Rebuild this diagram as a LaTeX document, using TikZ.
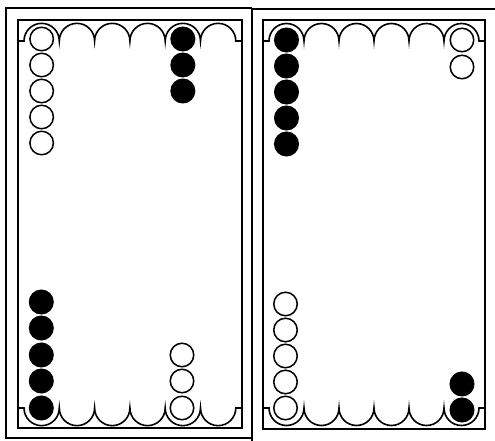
\documentclass[tikz,border=0pt]{standalone}
\begin{document}
\begin{tikzpicture}[x=1pt,y=1pt,
  frame/.style={line width=2.2pt},
  innerframe/.style={line width=2.6pt},
  pocket/.style={line width=1.6pt},
  wchk/.style={circle,draw,line width=1.5pt,fill=white,minimum size=23.5pt,inner sep=0pt},
  bchk/.style={circle,draw,line width=1.5pt,fill=black,minimum size=23.5pt,inner sep=0pt}]
\useasboundingbox (0,0) rectangle (495,-441);
% outer frames
\draw[frame] (252,-441) -- (252,-9) -- (495,-9);
\draw[frame] (252,-438) -- (6,-438) -- (6,-8) -- (252,-8);
% inner frames
\draw[innerframe] (18,-20) rectangle (242,-428);
\draw[innerframe] (263,-20) rectangle (485,-429);
% pockets, left board
\draw[pocket] (18,-41) -- (24,-41)
  \foreach \i in {1,...,6}{ arc[start angle=180,end angle=0,radius=17.65] } -- (242,-41);
\draw[pocket] (18,-408) -- (24,-408)
  \foreach \i in {1,...,6}{ arc[start angle=180,end angle=360,radius=17.65] } -- (242,-408);
% pockets, right board
\draw[pocket] (263,-41) -- (269,-41)
  \foreach \i in {1,...,6}{ arc[start angle=180,end angle=0,radius=17.5] } -- (485,-41);
\draw[pocket] (263,-408) -- (269,-408)
  \foreach \i in {1,...,6}{ arc[start angle=180,end angle=360,radius=17.5] } -- (485,-408);
% checkers, left board
\foreach \y [count=\k] in {39,65,91,117,143} \node[wchk] (lw\k) at (41.65,-\y) {};
\foreach \y [count=\k] in {39,65,91} \node[bchk] (lb\k) at (182.85,-\y) {};
\foreach \y [count=\k] in {302,328,355,381,408} \node[bchk] (lbb\k) at (41.3,-\y) {};
\foreach \y [count=\k] in {355,381,408} \node[wchk] (lwb\k) at (182,-\y) {};
% checkers, right board
\foreach \y [count=\k] in {40,66,92,118,144} \node[bchk] (rb\k) at (286.5,-\y) {};
\foreach \y [count=\k] in {40,67} \node[wchk] (rw\k) at (462,-\y) {};
\foreach \y [count=\k] in {304,330,356,382,408} \node[wchk] (rwb\k) at (285.5,-\y) {};
\foreach \y [count=\k] in {384,410} \node[bchk] (rbb\k) at (462,-\y) {};
\end{tikzpicture}
\end{document}
